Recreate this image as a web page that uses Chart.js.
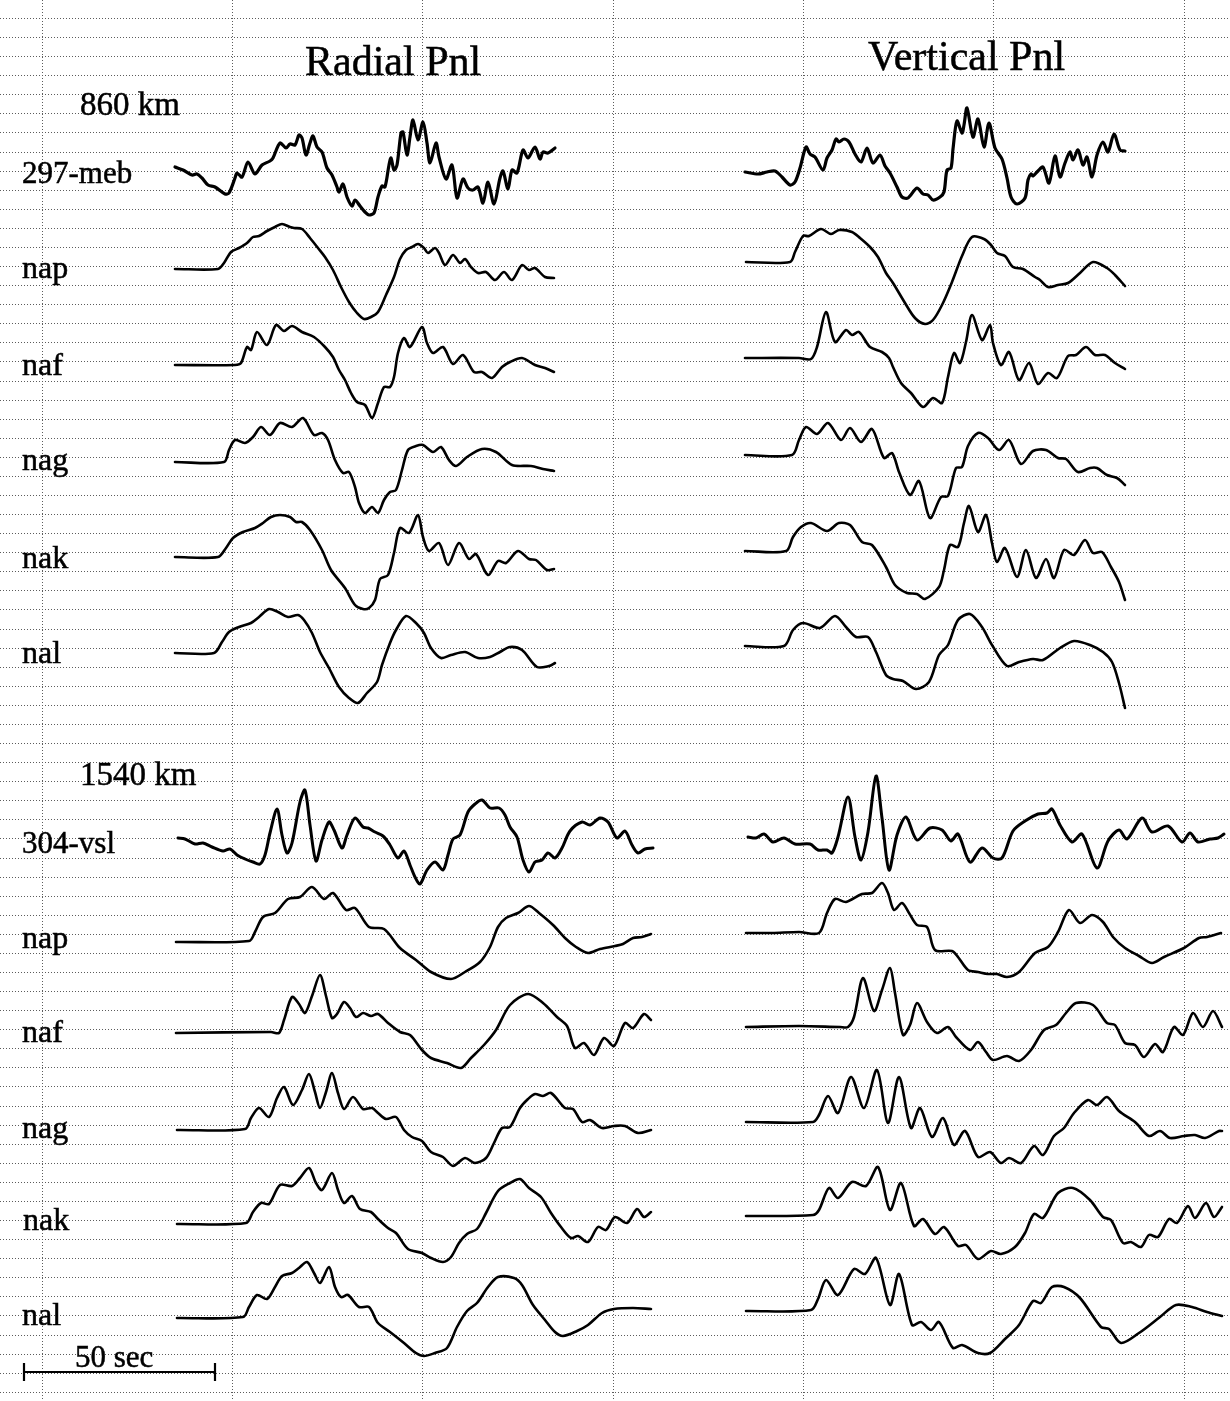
<!DOCTYPE html>
<html>
<head>
<meta charset="utf-8">
<title>Radial and Vertical Pnl, 860 km and 1540 km</title>
<script src="https://cdn.jsdelivr.net/npm/chart.js@4.4.1/dist/chart.umd.min.js"></script>
<style>
  html, body { margin: 0; padding: 0; background: #fff; }
  #wrap { width: 1230px; height: 1401px; }
</style>
</head>
<body>
<div id="wrap"><canvas id="fig" width="1230" height="1401"></canvas></div>
<script>
'use strict';

// Time is in samples (one sample = 50/191 s, taken from the 50 sec bar),
// amplitude in arbitrary counts, positive up. Each pair is [sample, amplitude].
const SEC_PER_SAMPLE = 50 / 191;

// ── 860 km, Radial Pnl ───────────────────────────────────────────────────────
const RAD860_MEB = [[0,0],[8,-3],[17,-8],[22,-7],[27,-11],[33,-18],[40,-20],[50,-27],[54,-26],[60,-11],[62,-6],[67,-10],[73,5],[80,-7],[87,2],[95,6],[98,9],[105,24],[111,19],[115,23],[120,22],[124,32],[127,29],[131,12],[135,24],[138,31],[142,20],[147,15],[152,-1],[157,-8],[162,-20],[164,-25],[168,-17],[172,-30],[177,-39],[180,-33],[185,-39],[190,-45],[194,-48],[199,-46],[203,-30],[207,-19],[210,-20],[214,2],[216,9],[219,-3],[222,2],[226,34],[228,35],[232,12],[235,30],[238,47],[243,27],[248,45],[252,24],[255,4],[261,24],[264,10],[271,-12],[277,2],[282,-31],[288,-12],[293,-21],[298,-23],[303,-20],[308,-36],[313,-15],[319,-37],[325,-11],[328,-4],[333,-22],[337,-3],[342,-6],[348,17],[353,9],[360,20],[365,8],[368,15],[373,14],[380,19]];
const RAD860_NAP = [[0,0],[43,0],[49,6],[56,17],[64,21],[72,26],[78,32],[84,33],[92,38],[100,42],[107,45],[115,42],[119,41],[127,40],[135,31],[143,21],[150,12],[158,-1],[166,-18],[174,-33],[182,-44],[189,-50],[196,-48],[203,-43],[211,-26],[219,-8],[225,10],[231,19],[237,22],[243,25],[249,21],[253,16],[260,21],[264,16],[270,4],[278,14],[285,6],[290,10],[296,2],[303,-4],[311,-3],[320,-11],[329,-3],[337,-11],[347,4],[354,-1],[360,1],[370,-8],[379,-9]];
const RAD860_NAF = [[0,0],[60,0],[66,2],[72,18],[76,15],[82,33],[92,20],[101,40],[109,34],[117,39],[127,33],[139,28],[150,18],[158,8],[164,-5],[170,-15],[176,-28],[182,-37],[190,-40],[197,-53],[203,-38],[209,-22],[215,-22],[219,-12],[223,12],[229,27],[235,18],[247,38],[252,22],[258,12],[268,18],[278,1],[288,10],[299,-7],[307,-7],[317,-13],[327,-2],[335,3],[347,7],[360,0],[370,-3],[379,-7]];
const RAD860_NAG = [[0,0],[49,0],[54,12],[60,22],[70,19],[78,25],[86,35],[95,27],[105,39],[117,35],[128,44],[139,27],[147,29],[153,22],[160,2],[168,-11],[174,-10],[180,-25],[184,-41],[190,-51],[197,-45],[203,-51],[209,-38],[215,-30],[221,-28],[227,-8],[233,12],[241,16],[248,17],[258,10],[266,15],[274,2],[281,-4],[292,5],[307,13],[321,10],[337,-3],[356,-4],[368,-7],[379,-9]];
const RAD860_NAK = [[0,0],[43,0],[51,9],[58,19],[68,25],[80,29],[88,34],[96,40],[105,42],[115,40],[121,35],[127,35],[135,27],[147,7],[156,-13],[170,-31],[180,-48],[188,-52],[194,-51],[200,-43],[205,-22],[213,-18],[219,4],[225,29],[234,24],[243,42],[248,20],[254,6],[264,14],[273,-8],[284,14],[294,-2],[301,3],[313,-18],[323,-4],[331,-6],[343,6],[354,-2],[361,-3],[372,-13],[379,-12]];
const RAD860_NAL = [[0,0],[39,0],[47,11],[54,21],[64,26],[76,30],[84,36],[94,44],[103,41],[113,36],[123,38],[129,33],[137,20],[145,1],[154,-15],[164,-34],[174,-45],[183,-50],[192,-40],[202,-29],[207,-12],[215,10],[221,23],[231,37],[241,30],[249,20],[256,5],[266,-5],[276,-2],[290,1],[303,-5],[315,-4],[325,1],[335,6],[347,3],[362,-14],[374,-13],[380,-10]];

// ── 860 km, Vertical Pnl ─────────────────────────────────────────────────────
const VER860_MEB = [[0,0],[13,-2],[22,0],[30,1],[37,-5],[45,-13],[50,-10],[55,4],[61,25],[65,18],[70,15],[78,2],[82,14],[87,22],[91,33],[94,30],[99,33],[104,30],[110,18],[116,10],[122,24],[128,9],[135,17],[140,6],[145,-1],[152,-15],[157,-25],[163,-26],[172,-16],[178,-22],[183,-23],[188,-28],[195,-25],[199,-20],[202,2],[206,4],[208,23],[212,51],[217,39],[219,47],[222,64],[228,35],[233,53],[239,25],[244,49],[250,24],[257,13],[262,-6],[266,-25],[272,-32],[280,-26],[283,-8],[286,-2],[288,-4],[293,1],[298,5],[304,-11],[310,16],[315,-5],[320,9],[325,20],[328,12],[333,22],[338,7],[342,15],[347,-5],[352,17],[358,30],[363,20],[369,38],[375,22],[380,21]];
const VER860_NAP = [[0,0],[44,0],[49,10],[57,26],[63,26],[75,33],[85,28],[93,32],[106,30],[114,24],[124,15],[132,5],[140,-11],[147,-21],[159,-41],[169,-56],[179,-62],[187,-58],[196,-43],[206,-20],[216,6],[226,25],[238,23],[245,17],[251,9],[259,6],[267,-5],[277,-7],[289,-15],[294,-18],[302,-25],[312,-23],[322,-21],[334,-11],[347,0],[361,-6],[369,-13],[379,-24]];
const VER860_NAF = [[0,0],[54,0],[66,-1],[72,11],[81,46],[90,16],[101,28],[107,23],[114,26],[125,11],[137,6],[144,0],[148,-9],[156,-25],[166,-35],[178,-49],[188,-40],[197,-45],[203,-19],[209,5],[215,-5],[221,16],[227,43],[237,18],[245,33],[248,15],[256,-7],[264,6],[274,-22],[284,-5],[293,-26],[303,-15],[312,-20],[323,2],[331,3],[341,11],[350,3],[360,3],[370,-5],[380,-11]];
const VER860_NAG = [[0,0],[47,0],[54,15],[61,28],[72,21],[83,32],[96,15],[105,27],[116,13],[127,26],[139,-3],[147,2],[154,-17],[165,-40],[174,-26],[185,-63],[196,-42],[203,-41],[211,-13],[217,-12],[223,9],[233,22],[243,17],[254,5],[264,15],[276,-9],[288,4],[301,5],[313,-3],[321,-4],[333,-17],[345,-13],[352,-13],[362,-20],[372,-23],[380,-30]];
const VER860_NAK = [[0,0],[41,0],[48,14],[56,24],[66,28],[82,20],[94,28],[105,26],[117,9],[127,6],[141,-16],[150,-34],[162,-42],[172,-43],[180,-48],[194,-36],[199,-19],[205,6],[213,4],[219,28],[224,45],[233,19],[241,36],[247,8],[252,-11],[260,3],[272,-26],[281,1],[291,-27],[301,-8],[309,-27],[319,1],[329,-4],[340,11],[348,-2],[357,-1],[366,-16],[374,-31],[380,-49]];
const VER860_NAL = [[0,0],[39,0],[48,16],[58,23],[75,18],[90,30],[101,19],[111,9],[123,9],[131,-6],[141,-29],[148,-33],[158,-35],[171,-43],[184,-36],[194,-9],[203,1],[213,26],[225,32],[237,19],[247,1],[262,-20],[274,-16],[288,-13],[298,-14],[315,-2],[329,5],[345,1],[358,-6],[367,-16],[374,-37],[380,-62]];

// ── 1540 km, Radial Pnl ──────────────────────────────────────────────────────
const RAD1540_VSL = [[0,0],[7,-1],[17,-6],[25,-5],[34,-9],[45,-13],[52,-11],[59,-17],[67,-21],[75,-24],[82,-26],[87,-17],[92,5],[99,29],[104,3],[109,-15],[114,-5],[122,36],[127,48],[132,13],[138,-23],[144,-2],[151,16],[156,8],[164,-10],[169,3],[177,20],[185,11],[190,10],[197,6],[205,2],[212,-7],[220,-20],[226,-13],[232,-27],[237,-39],[242,-46],[249,-32],[257,-24],[265,-32],[270,-17],[275,-1],[282,3],[290,26],[297,34],[304,38],[312,30],[321,30],[327,23],[332,11],[339,1],[345,-22],[351,-34],[357,-24],[364,-22],[370,-15],[377,-20],[384,-10],[392,7],[404,16],[412,13],[422,20],[430,16],[439,0],[447,7],[454,-7],[460,-15],[467,-11],[475,-10]];
const RAD1540_NAP = [[0,0],[73,1],[79,10],[87,25],[99,29],[112,43],[124,45],[136,55],[148,43],[157,49],[170,32],[179,34],[193,15],[208,13],[224,-6],[240,-18],[255,-30],[275,-37],[289,-30],[304,-20],[314,-5],[322,15],[330,24],[342,29],[353,36],[363,29],[377,17],[389,4],[400,-5],[412,-11],[424,-7],[439,-4],[447,-2],[457,4],[466,5],[475,8]];
const RAD1540_NAF = [[0,0],[95,1],[103,0],[108,13],[116,36],[123,29],[129,20],[136,37],[144,58],[150,37],[156,15],[161,19],[168,31],[174,25],[180,16],[187,20],[195,17],[202,19],[212,10],[224,1],[234,-2],[246,-17],[255,-25],[271,-30],[285,-35],[295,-25],[308,-12],[320,3],[334,28],[352,39],[367,30],[381,16],[391,7],[399,-15],[408,-10],[418,-22],[428,-5],[438,-13],[449,10],[457,5],[468,19],[475,13]];
const RAD1540_NAG = [[0,0],[68,1],[74,12],[82,22],[92,13],[100,32],[107,43],[116,25],[125,40],[132,56],[138,38],[143,22],[149,38],[155,57],[161,37],[167,21],[176,33],[186,21],[195,22],[201,17],[209,11],[219,13],[227,0],[235,-7],[245,-11],[254,-22],[266,-27],[276,-36],[288,-28],[298,-33],[309,-28],[317,-13],[325,2],[333,3],[343,22],[351,31],[358,36],[366,34],[374,37],[388,22],[396,21],[405,8],[413,10],[425,2],[437,4],[448,4],[461,-3],[474,0]];
const RAD1540_NAK = [[0,0],[69,1],[76,12],[84,21],[92,20],[103,39],[115,38],[123,46],[132,56],[139,41],[145,34],[155,51],[161,34],[167,21],[175,28],[183,15],[194,12],[201,5],[211,-4],[219,-9],[231,-25],[245,-29],[254,-34],[266,-38],[274,-33],[282,-19],[290,-10],[300,-5],[309,11],[321,33],[333,41],[343,45],[352,36],[364,27],[374,11],[384,-3],[394,-14],[401,-12],[411,-18],[421,-3],[429,-6],[438,7],[450,1],[460,15],[467,7],[474,12]];
const RAD1540_NAL = [[0,0],[66,1],[72,11],[80,23],[90,19],[98,31],[105,42],[115,45],[122,50],[130,56],[137,45],[143,35],[152,51],[158,31],[164,21],[171,23],[182,11],[192,11],[201,-5],[213,-14],[227,-25],[239,-35],[247,-38],[258,-35],[270,-30],[280,-9],[290,7],[300,15],[311,31],[321,41],[337,40],[345,33],[356,13],[368,-2],[378,-14],[386,-18],[400,-13],[411,-7],[425,5],[437,9],[456,10],[474,9]];

// ── 1540 km, Vertical Pnl ────────────────────────────────────────────────────
const VER1540_VSL = [[0,0],[8,-1],[16,3],[25,-5],[36,-1],[47,-7],[62,-7],[70,-13],[79,-13],[84,-16],[90,0],[100,40],[107,0],[113,-23],[120,5],[128,61],[134,19],[141,-33],[149,2],[158,20],[169,-3],[182,9],[194,7],[203,-4],[210,3],[222,-25],[234,-11],[245,-21],[254,-21],[265,6],[277,16],[290,23],[299,24],[304,28],[312,12],[324,-5],[334,3],[349,-31],[360,-4],[371,7],[379,-2],[394,19],[404,5],[420,11],[434,-5],[442,4],[450,-5],[462,-2],[470,-1],[476,3]];
const VER1540_NAP = [[0,0],[26,0],[53,1],[73,0],[81,20],[89,34],[100,31],[116,39],[126,40],[136,50],[142,40],[148,23],[156,30],[163,20],[171,8],[181,6],[189,-17],[206,-18],[212,-24],[222,-37],[232,-39],[242,-41],[251,-41],[261,-44],[273,-39],[289,-20],[302,-14],[312,1],[323,23],[334,10],[346,18],[357,11],[367,-4],[379,-15],[393,-23],[406,-30],[418,-24],[438,-15],[453,-5],[461,-4],[475,0]];
const VER1540_NAF = [[0,0],[53,1],[94,0],[102,0],[108,10],[117,49],[128,16],[136,37],[144,59],[149,34],[157,-8],[164,2],[171,24],[181,5],[191,-6],[202,0],[210,-10],[224,-23],[232,-15],[240,-25],[247,-33],[261,-29],[273,-34],[285,-23],[298,-3],[310,2],[320,14],[330,24],[347,22],[361,4],[369,2],[379,-16],[389,-18],[398,-30],[409,-17],[417,-25],[428,0],[437,-8],[447,14],[457,0],[467,16],[476,0]];
const VER1540_NAG = [[0,0],[67,0],[73,7],[82,26],[92,9],[105,45],[118,14],[131,52],[142,-1],[153,45],[165,-6],[174,14],[186,-15],[197,4],[208,-23],[219,-9],[232,-35],[244,-30],[255,-41],[263,-36],[275,-41],[288,-24],[297,-33],[308,-14],[318,-6],[328,9],[342,22],[351,17],[361,25],[373,11],[389,0],[403,-14],[414,-9],[424,-16],[438,-14],[449,-13],[459,-16],[473,-9],[476,-9]];
const VER1540_NAK = [[0,0],[67,1],[73,6],[83,28],[92,18],[106,34],[120,30],[132,49],[144,6],[155,33],[168,-10],[177,-3],[189,-18],[198,-11],[212,-30],[220,-29],[232,-43],[245,-35],[255,-38],[269,-31],[279,-17],[288,2],[297,-2],[312,23],[327,28],[344,16],[357,-1],[365,-4],[377,-27],[385,-26],[395,-31],[403,-19],[412,-21],[423,-3],[431,-7],[442,10],[449,-2],[460,13],[468,-1],[476,9]];
const VER1540_NAL = [[0,0],[65,1],[72,12],[80,31],[92,16],[108,42],[119,37],[130,53],[144,6],[153,37],[166,-14],[175,-11],[185,-19],[193,-11],[207,-37],[216,-34],[232,-42],[244,-42],[259,-28],[273,-14],[287,10],[295,8],[306,24],[318,24],[334,13],[355,-16],[363,-18],[375,-32],[393,-22],[414,-6],[430,6],[446,4],[461,-1],[476,-5]];

const SCALE_BAR_SEC = 50;

// ── Layout (page units) ──────────────────────────────────────────────────────
const TRACES = [
    { name: 'Radial Pnl 860 km 297-meb',   data: RAD860_MEB,  x0: 175, y0: 167,  w: 3.2 },
    { name: 'Radial Pnl 860 km nap',       data: RAD860_NAP,  x0: 175, y0: 269,  w: 2.6 },
    { name: 'Radial Pnl 860 km naf',       data: RAD860_NAF,  x0: 175, y0: 365,  w: 2.6 },
    { name: 'Radial Pnl 860 km nag',       data: RAD860_NAG,  x0: 175, y0: 462,  w: 2.6 },
    { name: 'Radial Pnl 860 km nak',       data: RAD860_NAK,  x0: 175, y0: 557,  w: 2.6 },
    { name: 'Radial Pnl 860 km nal',       data: RAD860_NAL,  x0: 175, y0: 653,  w: 2.6 },
    { name: 'Vertical Pnl 860 km 297-meb', data: VER860_MEB,  x0: 745, y0: 172,  w: 3.2 },
    { name: 'Vertical Pnl 860 km nap',     data: VER860_NAP,  x0: 746, y0: 262,  w: 2.6 },
    { name: 'Vertical Pnl 860 km naf',     data: VER860_NAF,  x0: 745, y0: 358,  w: 2.6 },
    { name: 'Vertical Pnl 860 km nag',     data: VER860_NAG,  x0: 745, y0: 455,  w: 2.6 },
    { name: 'Vertical Pnl 860 km nak',     data: VER860_NAK,  x0: 745, y0: 551,  w: 2.6 },
    { name: 'Vertical Pnl 860 km nal',     data: VER860_NAL,  x0: 745, y0: 646,  w: 2.6 },
    { name: 'Radial Pnl 1540 km 304-vsl',  data: RAD1540_VSL, x0: 178, y0: 838,  w: 3.0 },
    { name: 'Radial Pnl 1540 km nap',      data: RAD1540_NAP, x0: 176, y0: 942,  w: 2.6 },
    { name: 'Radial Pnl 1540 km naf',      data: RAD1540_NAF, x0: 176, y0: 1033, w: 2.6 },
    { name: 'Radial Pnl 1540 km nag',      data: RAD1540_NAG, x0: 177, y0: 1130, w: 2.6 },
    { name: 'Radial Pnl 1540 km nak',      data: RAD1540_NAK, x0: 177, y0: 1224, w: 2.6 },
    { name: 'Radial Pnl 1540 km nal',      data: RAD1540_NAL, x0: 177, y0: 1318, w: 2.6 },
    { name: 'Vertical Pnl 1540 km 304-vsl',data: VER1540_VSL, x0: 748, y0: 837,  w: 3.0 },
    { name: 'Vertical Pnl 1540 km nap',    data: VER1540_NAP, x0: 746, y0: 933,  w: 2.6 },
    { name: 'Vertical Pnl 1540 km naf',    data: VER1540_NAF, x0: 746, y0: 1027, w: 2.6 },
    { name: 'Vertical Pnl 1540 km nag',    data: VER1540_NAG, x0: 746, y0: 1122, w: 2.6 },
    { name: 'Vertical Pnl 1540 km nak',    data: VER1540_NAK, x0: 746, y0: 1216, w: 2.6 },
    { name: 'Vertical Pnl 1540 km nal',    data: VER1540_NAL, x0: 746, y0: 1311, w: 2.6 },
];

const LABELS = [
    { text: 'Radial Pnl',   x: 305, y: 75,   size: 42 },
    { text: 'Vertical Pnl', x: 868, y: 70,   size: 42 },
    { text: '860 km',       x: 80,  y: 115,  size: 33 },
    { text: '1540 km',      x: 80,  y: 785,  size: 33 },
    { text: '297-meb',      x: 22,  y: 183,  size: 31 },
    { text: 'nap',          x: 22,  y: 278,  size: 32 },
    { text: 'naf',          x: 22,  y: 375,  size: 32 },
    { text: 'nag',          x: 22,  y: 470,  size: 32 },
    { text: 'nak',          x: 22,  y: 568,  size: 32 },
    { text: 'nal',          x: 22,  y: 663,  size: 32 },
    { text: '304-vsl',      x: 22,  y: 853,  size: 31 },
    { text: 'nap',          x: 22,  y: 948,  size: 32 },
    { text: 'naf',          x: 22,  y: 1042, size: 32 },
    { text: 'nag',          x: 22,  y: 1138, size: 32 },
    { text: 'nak',          x: 23,  y: 1230, size: 32 },
    { text: 'nal',          x: 22,  y: 1325, size: 32 },
    { text: '50 sec',       x: 75,  y: 1367, size: 31 },
];

const BAR = { x0: 24, y: 1372, tick: 9 };

// dotted paper grid
const GRID_X = [42, 232, 423, 613, 803, 993, 1184];
const GRID_Y = Array.from({ length: 73 }, (_, k) => 18.5 + 19.08 * k);

// ── Build datasets ───────────────────────────────────────────────────────────

function traceDataset(t) {
    return {
        label: t.name,
        data: t.data.map(([i, a]) => ({ x: t.x0 + i, y: t.y0 - a })),
        borderColor: '#000',
        borderWidth: t.w,
        borderJoinStyle: 'round',
        borderCapStyle: 'round',
        pointRadius: 0,
        tension: 0.3,
        fill: false,
    };
}

function segment(label, pts) {
    return {
        label, data: pts, borderColor: '#000', borderWidth: 2.2,
        pointRadius: 0, tension: 0, fill: false,
    };
}

const barEnd = BAR.x0 + SCALE_BAR_SEC / SEC_PER_SAMPLE;
const datasets = TRACES.map(traceDataset).concat([
    segment('50 sec', [{ x: BAR.x0, y: BAR.y }, { x: barEnd, y: BAR.y }]),
    segment('bar start', [{ x: BAR.x0, y: BAR.y - BAR.tick }, { x: BAR.x0, y: BAR.y + BAR.tick }]),
    segment('bar end', [{ x: barEnd, y: BAR.y - BAR.tick }, { x: barEnd, y: BAR.y + BAR.tick }]),
]);

// ── Text plugin ──────────────────────────────────────────────────────────────

const textPlugin = {
    id: 'figText',
    afterDatasetsDraw(chart) {
        const { ctx, scales } = chart;
        ctx.save();
        ctx.fillStyle = '#000';
        ctx.strokeStyle = '#000';
        ctx.lineWidth = 0.5;
        ctx.textBaseline = 'alphabetic';
        LABELS.forEach(l => {
            const x = scales.x.getPixelForValue(l.x);
            const y = scales.y.getPixelForValue(l.y);
            ctx.font = `${l.size}px "Liberation Serif", "DejaVu Serif", serif`;
            ctx.fillText(l.text, x, y);
            ctx.strokeText(l.text, x, y);
        });
        ctx.restore();
    }
};

const gridAxis = (min, max, ticks, reverse) => ({
    type: 'linear', min, max, reverse,
    ticks: { display: false },
    grid: { color: '#5c5c5c', lineWidth: 1, drawTicks: false, tickLength: 0 },
    border: { display: false, dash: [1, 2] },
    afterBuildTicks: s => { s.ticks = ticks.map(v => ({ value: v })); },
});

new Chart(document.getElementById('fig'), {
    type: 'line',
    data: { datasets },
    options: {
        responsive: false,
        animation: false,
        devicePixelRatio: 1,
        parsing: false,
        layout: { padding: 0 },
        plugins: { legend: { display: false }, tooltip: { enabled: false } },
        scales: {
            x: gridAxis(0, 1230, GRID_X, false),
            y: gridAxis(0, 1401, GRID_Y, true),
        },
    },
    plugins: [textPlugin],
});
</script>
</body>
</html>
